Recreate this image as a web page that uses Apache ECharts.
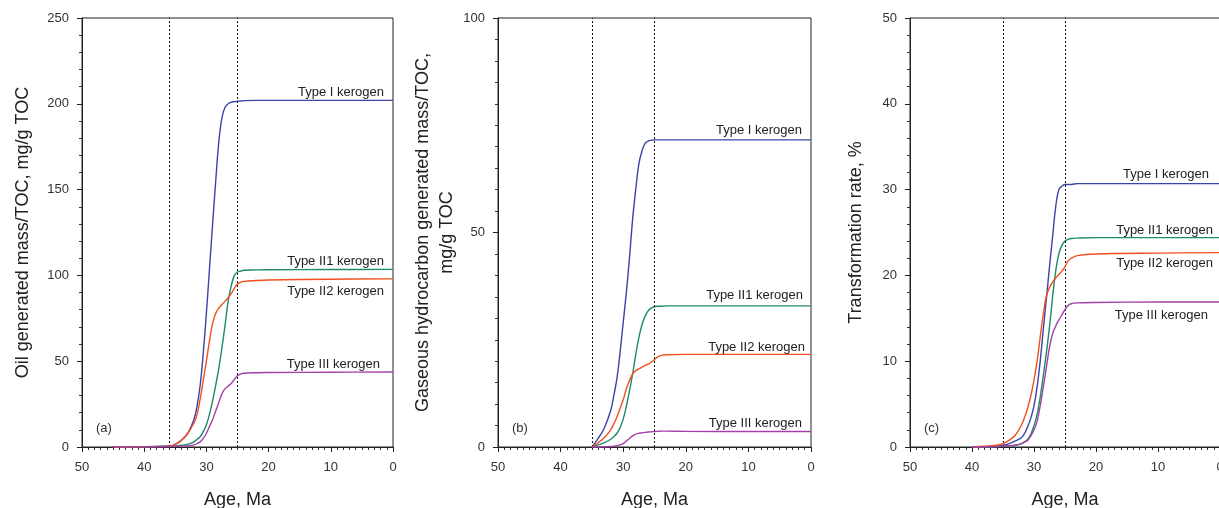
<!DOCTYPE html>
<html>
<head>
<meta charset="utf-8">
<script src="https://cdn.jsdelivr.net/npm/echarts@6/dist/echarts.min.js"></script>
<style>
  html, body { margin: 0; padding: 0; background: #fff; }
  #chart { width: 1219px; height: 508px; }
</style>
</head>
<body>
<div id="chart"></div>
<script>
// series names / colours
const kerogens = ['Type I kerogen', 'Type II1 kerogen', 'Type II2 kerogen', 'Type III kerogen']
const colors = ['#3c44a8', '#1e8a68', '#f0501e', '#a040a8']

// (a) oil generated mass/TOC
const agesA = [45, 40, 36, 35, 34, 33, 32, 31.5, 31, 30.5, 30, 29.5, 29, 28.5, 28, 27.5, 27, 26.5, 26, 25.5, 25, 24.5, 24, 22, 20, 10, 0]
const oilI   = [0, 0.2, 0.5, 1.5, 4, 8, 16, 24, 36, 55, 78, 104, 130, 155, 178, 192, 198, 200, 201, 201.3, 201.5, 201.6, 201.8, 202, 202, 202, 202]
const oilII1 = [0, 0.2, 0.5, 0.6, 1, 1.5, 3, 4.5, 6, 9, 13, 19, 27, 36, 46, 58, 71, 85, 94, 100, 102, 102.5, 103, 103.2, 103.3, 103.4, 103.5]
const oilII2 = [0, 0.2, 0.5, 1.5, 4, 8, 14, 19, 28, 39, 50, 62, 72, 78, 81, 83, 85, 87, 89.5, 92.5, 95, 96, 96.5, 97, 97.3, 97.8, 98]
const oilIII = [0, 0.1, 0.3, 0.4, 0.5, 0.6, 1.2, 2, 3, 5, 8, 12, 16, 21, 26, 31, 34, 35.5, 37, 39.5, 41.5, 42.5, 43, 43.3, 43.4, 43.6, 43.7]

// (b) gaseous hydrocarbon generated mass/TOC
const agesB = [35, 34, 33, 32, 31.5, 31, 30.5, 30, 29.5, 29, 28.5, 28, 27.5, 27, 26.5, 26, 25.5, 25, 24.5, 24, 23, 20, 10, 0]
const gasI   = [0, 2, 4.5, 8.5, 12, 16, 22, 29, 36, 44, 53, 60, 66, 69, 70.8, 71.3, 71.5, 71.6, 71.6, 71.6, 71.6, 71.6, 71.6, 71.6]
const gasII1 = [0, 0.5, 1, 1.8, 2.4, 3.2, 4.5, 6.5, 9.5, 13, 17, 21.5, 25.5, 28.5, 30.5, 31.8, 32.4, 32.7, 32.8, 32.8, 32.9, 32.9, 32.9, 32.9]
const gasII2 = [0, 1, 2.2, 4, 5.4, 7, 9, 11, 13.5, 15.5, 17, 17.8, 18.2, 18.6, 19, 19.3, 19.8, 20.4, 21, 21.3, 21.5, 21.6, 21.6, 21.6]
const gasIII = [0, 0, 0.05, 0.1, 0.2, 0.3, 0.5, 0.8, 1.4, 2, 2.6, 3, 3.2, 3.3, 3.4, 3.5, 3.55, 3.6, 3.65, 3.7, 3.7, 3.65, 3.6, 3.6]

// (c) transformation rate
const agesC = [40, 36, 35, 34, 33, 32, 31.5, 31, 30.5, 30, 29.5, 29, 28.5, 28, 27.5, 27, 26.5, 26, 25.5, 25, 24.5, 24, 23, 20, 10, 0]
const trI   = [0, 0.1, 0.2, 0.4, 0.7, 1.1, 1.6, 2.4, 3.4, 4.8, 7, 10, 13.7, 17.3, 21, 24.5, 28, 30, 30.4, 30.6, 30.6, 30.6, 30.7, 30.7, 30.7, 30.7]
const trII1 = [0, 0.05, 0.1, 0.15, 0.2, 0.4, 0.6, 0.9, 1.5, 2.5, 3.8, 5.8, 8.3, 11, 14, 17.5, 20.5, 22.5, 23.5, 24, 24.2, 24.3, 24.35, 24.4, 24.4, 24.4]
const trII2 = [0, 0.2, 0.4, 0.8, 1.4, 2.6, 3.5, 4.6, 6, 7.8, 10, 12.8, 15.5, 17.6, 18.6, 19.2, 19.7, 20.1, 20.5, 21, 21.7, 22, 22.3, 22.5, 22.6, 22.65]
const trIII = [0, 0.05, 0.1, 0.15, 0.2, 0.4, 0.6, 0.8, 1.3, 2, 3, 4.8, 7, 9.3, 11.6, 13.2, 14.1, 14.8, 15.4, 16, 16.5, 16.7, 16.8, 16.85, 16.9, 16.9]

// dotted reference ages
const markA = [36, 25]
const markB = [35, 25]
const markC = [35, 25]

const FONT = '"Liberation Sans", Arial, sans-serif'

const panels = [
  {
    tag: '(a)', ages: agesA, values: [oilI, oilII1, oilII2, oilIII], marks: markA,
    yMax: 250, yInterval: 50, yMinor: 5,
    yName: 'Oil generated mass/TOC, mg/g TOC', nameGap: 47,
    grid: { left: 82, top: 18, width: 311, height: 429 },
    labelOffsets: [[-9, -8], [-9, -8], [-9, 13], [-13, -8]]
  },
  {
    tag: '(b)', ages: agesB, values: [gasI, gasII1, gasII2, gasIII], marks: markB,
    yMax: 100, yInterval: 50, yMinor: 10,
    yName: 'Gaseous hydrocarbon generated mass/TOC,\nmg/g TOC', nameGap: 21,
    grid: { left: 498, top: 18, width: 313, height: 429 },
    labelOffsets: [[-9, -9], [-8, -10], [-6, -7], [-9, -8]]
  },
  {
    tag: '(c)', ages: agesC, values: [trI, trII1, trII2, trIII], marks: markC,
    yMax: 50, yInterval: 10, yMinor: 5,
    yName: 'Transformation rate, %', nameGap: 42,
    grid: { left: 910, top: 18, width: 310, height: 429 },
    labelOffsets: [[-11, -9], [-7, -7], [-7, 11], [-12, 13]]
  }
]

const chart = echarts.init(document.getElementById('chart'))

const grid = []
const xAxis = []
const yAxis = []
const series = []
const title = []

panels.forEach((p, pi) => {
  grid.push(Object.assign({
    show: true,
    borderColor: '#222',
    borderWidth: 1,
    backgroundColor: 'transparent',
    containLabel: false,
    outerBoundsMode: 'none'
  }, p.grid))
  title.push({
    text: p.tag,
    left: p.grid.left + 9,
    top: 417,
    textStyle: { fontFamily: FONT, fontSize: 13, fontWeight: 'normal', color: '#333' }
  })
  xAxis.push({
    gridIndex: pi,
    type: 'value',
    min: 0,
    max: 50,
    interval: 10,
    inverse: true,
    name: 'Age, Ma',
    nameLocation: 'middle',
    nameGap: 44,
    nameTextStyle: { fontFamily: FONT, fontSize: 18, color: '#222' },
    axisLine: { onZero: false, lineStyle: { color: '#222', width: 1 } },
    axisTick: { show: true, length: 5, lineStyle: { color: '#222' } },
    minorTick: { show: true, splitNumber: 10, length: 3, lineStyle: { color: '#333' } },
    axisLabel: { fontFamily: FONT, fontSize: 13, color: '#333', margin: 14 },
    splitLine: { show: false }
  })
  yAxis.push({
    gridIndex: pi,
    type: 'value',
    position: 'left',
    min: 0,
    max: p.yMax,
    interval: p.yInterval,
    name: p.yName,
    nameLocation: 'middle',
    nameRotate: 90,
    nameGap: p.nameGap,
    nameTextStyle: { fontFamily: FONT, fontSize: 18, color: '#222', lineHeight: 24 },
    // x runs 50 -> 0, so keep the y axis off the x=0 edge
    axisLine: { show: true, onZero: false, lineStyle: { color: '#222', width: 1 } },
    axisTick: { show: true, length: 5, lineStyle: { color: '#222' } },
    minorTick: { show: true, splitNumber: p.yMinor, length: 3, lineStyle: { color: '#333' } },
    axisLabel: { fontFamily: FONT, fontSize: 13, color: '#333', margin: 13 },
    splitLine: { show: false }
  })

  p.values.forEach((vals, si) => {
    const last = vals.length - 1
    const data = p.ages.map((a, i) => {
      if (i !== last) return [a, vals[i]]
      // only the end point carries the kerogen label
      return {
        value: [a, vals[i]],
        symbol: 'circle',
        symbolSize: 0,
        label: {
          show: true,
          position: 'left',
          distance: 0,
          offset: p.labelOffsets[si],
          formatter: kerogens[si],
          fontFamily: FONT,
          fontSize: 13,
          color: '#222'
        }
      }
    })
    const s = {
      name: kerogens[si],
      type: 'line',
      xAxisIndex: pi,
      yAxisIndex: pi,
      data: data,
      symbol: 'none',
      showSymbol: true,
      smooth: 0.4,
      clip: false,
      lineStyle: { color: colors[si], width: 1.4 },
      itemStyle: { color: colors[si] },
      z: 3 + si
    }
    if (si === 0) {
      s.markLine = {
        silent: true,
        symbol: 'none',
        label: { show: false },
        lineStyle: { color: '#111', type: [2, 2], width: 1 },
        data: p.marks.map(m => ({ xAxis: m }))
      }
    }
    series.push(s)
  })
})

chart.setOption({
  animation: false,
  backgroundColor: '#fff',
  title: title,
  grid: grid,
  xAxis: xAxis,
  yAxis: yAxis,
  series: series
})
</script>
</body>
</html>
